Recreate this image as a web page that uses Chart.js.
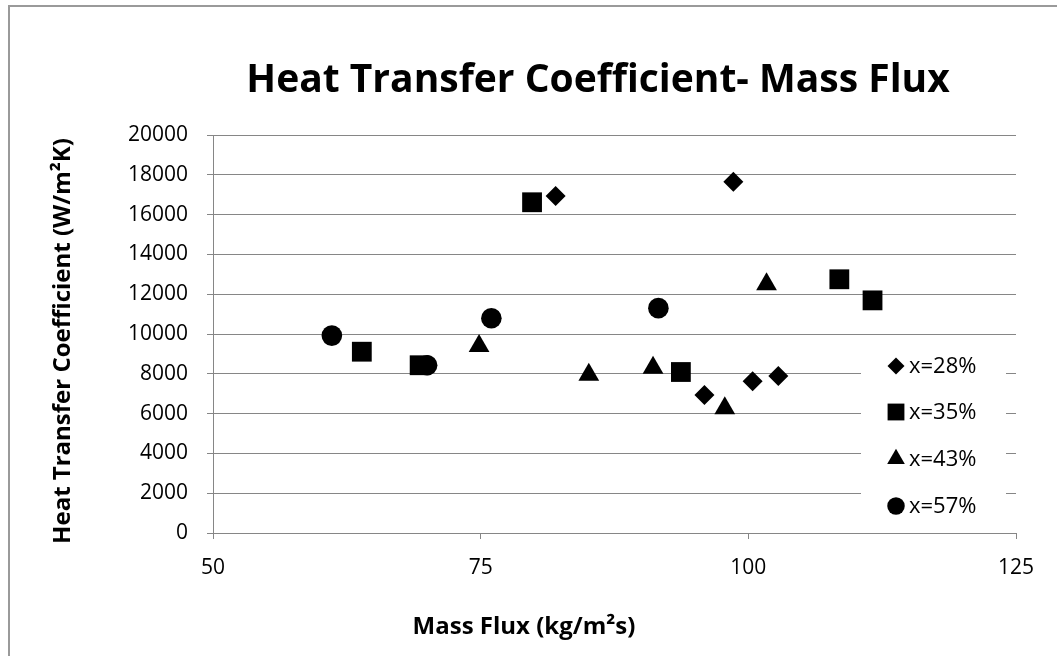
<!DOCTYPE html>
<html>
<head>
<meta charset="utf-8">
<title>Heat Transfer Coefficient- Mass Flux</title>
<script src="https://cdn.jsdelivr.net/npm/chart.js@4"></script>
<style>
  html, body { margin: 0; padding: 0; background: #fff; }
  #myChart { display: block; }
</style>
</head>
<body>
<canvas id="myChart" width="1060" height="656"></canvas>
<script>
// mass flux (kg/m2s) and heat transfer coefficient (W/m2K) for each quality
var massX28 = [82.0, 98.6, 95.9, 100.4, 102.8];
var htcX28 = [16930, 17650, 6940, 7620, 7890];

var massX35 = [79.8, 63.9, 69.3, 93.7, 108.5, 111.6];
var htcX35 = [16620, 9110, 8430, 8090, 12750, 11690];

var massX43 = [74.85, 85.1, 91.1, 97.8, 101.7];
var htcX43 = [9400, 7950, 8300, 6270, 12500];

var massX57 = [61.1, 70.0, 76.0, 91.6];
var htcX57 = [9920, 8430, 10790, 11300];

var seriesLabels = ['x=28%', 'x=35%', 'x=43%', 'x=57%'];
var xTicks = [50, 75, 100, 125];
var yTicks = [0, 2000, 4000, 6000, 8000, 10000, 12000, 14000, 16000, 18000, 20000];

var chartTitle = 'Heat Transfer Coefficient- Mass Flux';
var xTitle = 'Mass Flux (kg/m\u00b2s)';
var yTitle = 'Heat Transfer Coefficient (W/m\u00b2K)';

function toPoints(xs, ys) {
  var pts = [];
  for (var i = 0; i < xs.length; i++) pts.push({ x: xs[i], y: ys[i] });
  return pts;
}

var FONT = "'Open Sans', 'DejaVu Sans', sans-serif";
var GRID = '#868686';

// border, title, axis titles and the legend box over the plot
var extras = {
  id: 'extras',
  afterDraw: function (chart) {
    var ctx = chart.ctx;
    ctx.save();

    ctx.strokeStyle = '#9a9a9a';
    ctx.lineWidth = 2;
    ctx.beginPath();
    ctx.moveTo(1057, 6);
    ctx.lineTo(9, 6);
    ctx.lineTo(9, 700);
    ctx.stroke();

    ctx.fillStyle = '#000';
    ctx.textAlign = 'center';
    ctx.textBaseline = 'middle';
    ctx.font = 'bold 39px ' + FONT;
    ctx.fillText(chartTitle, 598, 81);

    ctx.font = 'bold 24px ' + FONT;
    ctx.fillText(xTitle, 524, 627);

    ctx.save();
    ctx.translate(63, 341);
    ctx.rotate(-Math.PI / 2);
    ctx.fillText(yTitle, 0, 0);
    ctx.restore();

    // legend
    ctx.fillStyle = '#fff';
    ctx.fillRect(861, 342, 145, 186);
    var rowY = [366, 412, 459, 506];
    ctx.font = '22px ' + FONT;
    ctx.textAlign = 'left';
    chart.data.datasets.forEach(function (ds, i) {
      var opts = {
        pointStyle: ds.pointStyle,
        radius: ds.pointRadius * 0.85,
        rotation: 0,
        borderWidth: 0
      };
      ctx.fillStyle = '#000';
      ctx.strokeStyle = '#000';
      Chart.helpers.drawPoint(ctx, opts, 896, rowY[i]);
      ctx.fillStyle = '#000';
      ctx.fillText(ds.label, 909, rowY[i] + 1);
    });

    ctx.restore();
  }
};

var ctx = document.getElementById('myChart').getContext('2d');
var chart = new Chart(ctx, {
  type: 'scatter',
  data: {
    datasets: [{
      label: seriesLabels[0],
      data: toPoints(massX28, htcX28),
      pointStyle: 'rectRot',
      pointRadius: 10,
      backgroundColor: '#000',
      borderWidth: 0
    }, {
      label: seriesLabels[1],
      data: toPoints(massX35, htcX35),
      pointStyle: 'rect',
      pointRadius: 14,
      backgroundColor: '#000',
      borderWidth: 0
    }, {
      label: seriesLabels[2],
      data: toPoints(massX43, htcX43),
      pointStyle: 'triangle',
      pointRadius: 12,
      backgroundColor: '#000',
      borderWidth: 0
    }, {
      label: seriesLabels[3],
      data: toPoints(massX57, htcX57),
      pointStyle: 'circle',
      pointRadius: 10.3,
      backgroundColor: '#000',
      borderWidth: 0
    }]
  },
  options: {
    responsive: false,
    animation: false,
    events: [],
    layout: { padding: { top: 135, right: 44, bottom: 0, left: 0 } },
    plugins: {
      legend: { display: false },
      title: { display: false },
      tooltip: { enabled: false }
    },
    scales: {
      x: {
        type: 'linear',
        min: 50,
        max: 125,
        afterFit: function (scale) { scale.height = 123; },
        afterBuildTicks: function (scale) {
          scale.ticks = xTicks.map(function (v) { return { value: v }; });
        },
        grid: { drawOnChartArea: false, drawTicks: true, tickLength: 6, color: GRID },
        border: { display: true, color: GRID, width: 1 },
        ticks: {
          color: '#000', font: { family: FONT, size: 21 }, padding: 16, maxRotation: 0,
          callback: function (v) { return String(v); }
        }
      },
      y: {
        type: 'linear',
        min: 0,
        max: 20000,
        afterFit: function (scale) { scale.width = 213; },
        afterBuildTicks: function (scale) {
          scale.ticks = yTicks.map(function (v) { return { value: v }; });
        },
        grid: { drawOnChartArea: true, drawTicks: true, tickLength: 6, color: GRID },
        border: { display: true, color: GRID, width: 1 },
        ticks: {
          color: '#000', font: { family: FONT, size: 21 }, padding: 19,
          callback: function (v) { return String(v); }
        }
      }
    }
  },
  plugins: [extras]
});
</script>
</body>
</html>
